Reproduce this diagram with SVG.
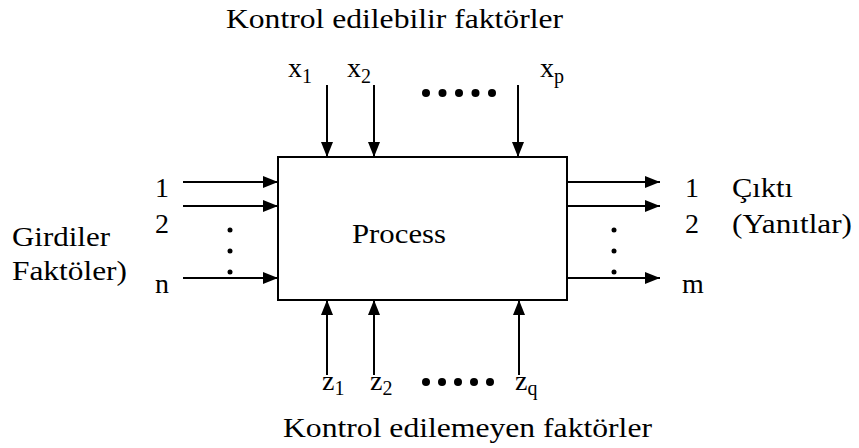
<svg xmlns="http://www.w3.org/2000/svg" width="859" height="448" viewBox="0 0 859 448">
<defs>
<marker id="ah" viewBox="0 0 15 12" refX="15" refY="6" markerWidth="15" markerHeight="12" markerUnits="userSpaceOnUse" orient="auto">
<path d="M0,0 L15,6 L0,12 Z" fill="#000"/>
</marker>
</defs>
<style>
.c{stroke:#000;stroke-width:2;fill:none;marker-end:url(#ah)}
.dot{fill:#000}
text{font-family:'Liberation Serif','Times New Roman',serif}
</style>
<rect width="859" height="448" fill="#fff"/>
<g font-size="28" fill="#000">
<g id="process">
<rect x="278" y="157" width="289" height="143" fill="#fff" stroke="#000" stroke-width="2"/>
<text x="352" y="243" textLength="94" lengthAdjust="spacingAndGlyphs">Process</text>
</g>
<g id="top-labels">
<text x="226" y="28" textLength="337" lengthAdjust="spacingAndGlyphs">Kontrol edilebilir faktörler</text>
<text x="288" y="77">x<tspan font-size="20" dy="6">1</tspan></text>
<text x="347" y="77">x<tspan font-size="20" dy="6">2</tspan></text>
<text x="540" y="77">x<tspan font-size="20" dy="6">p</tspan></text>
<g class="dot"><circle cx="426" cy="93" r="4"/><circle cx="442.5" cy="93" r="4"/><circle cx="459" cy="93" r="4"/><circle cx="475.5" cy="93" r="4"/><circle cx="492" cy="93" r="4"/></g>
</g>
<g id="inputs">
<text x="155" y="197">1</text>
<text x="155" y="233">2</text>
<text x="155" y="293">n</text>
<text x="12" y="246" textLength="98" lengthAdjust="spacingAndGlyphs">Girdiler</text>
<text x="12" y="280" textLength="115" lengthAdjust="spacingAndGlyphs">Faktöler)</text>
<g class="dot"><circle cx="230" cy="230" r="2.5"/><circle cx="230" cy="251" r="2.5"/><circle cx="230" cy="272" r="2.5"/></g>
</g>
<g id="outputs">
<text x="685" y="197">1</text>
<text x="732" y="197" textLength="61" lengthAdjust="spacingAndGlyphs">Çıktı</text>
<text x="685" y="233">2</text>
<text x="732" y="233" textLength="120" lengthAdjust="spacingAndGlyphs">(Yanıtlar)</text>
<text x="682" y="293">m</text>
<g class="dot"><circle cx="614" cy="230" r="2.5"/><circle cx="614" cy="251" r="2.5"/><circle cx="614" cy="272" r="2.5"/></g>
</g>
<g id="bottom-labels">
<text x="322" y="390">z<tspan font-size="20" dy="5">1</tspan></text>
<text x="370" y="390">z<tspan font-size="20" dy="5">2</tspan></text>
<text x="515" y="390">z<tspan font-size="20" dy="5">q</tspan></text>
<g class="dot"><circle cx="426" cy="382" r="4"/><circle cx="442" cy="382" r="4"/><circle cx="458" cy="382" r="4"/><circle cx="474" cy="382" r="4"/><circle cx="490" cy="382" r="4"/></g>
<text x="283" y="437" textLength="369" lengthAdjust="spacingAndGlyphs">Kontrol edilemeyen faktörler</text>
</g>
</g>
<g id="connectors">
<line class="c" x1="327" y1="85" x2="327" y2="157"/>
<line class="c" x1="374" y1="85" x2="374" y2="157"/>
<line class="c" x1="518" y1="85" x2="518" y2="157"/>
<line class="c" x1="183" y1="182" x2="278" y2="182"/>
<line class="c" x1="183" y1="206" x2="278" y2="206"/>
<line class="c" x1="183" y1="278" x2="278" y2="278"/>
<line class="c" x1="567" y1="182" x2="660" y2="182"/>
<line class="c" x1="567" y1="206" x2="660" y2="206"/>
<line class="c" x1="567" y1="278" x2="660" y2="278"/>
<line class="c" x1="327" y1="375" x2="327" y2="300"/>
<line class="c" x1="374" y1="375" x2="374" y2="300"/>
<line class="c" x1="519" y1="375" x2="519" y2="300"/>
</g>
</svg>
